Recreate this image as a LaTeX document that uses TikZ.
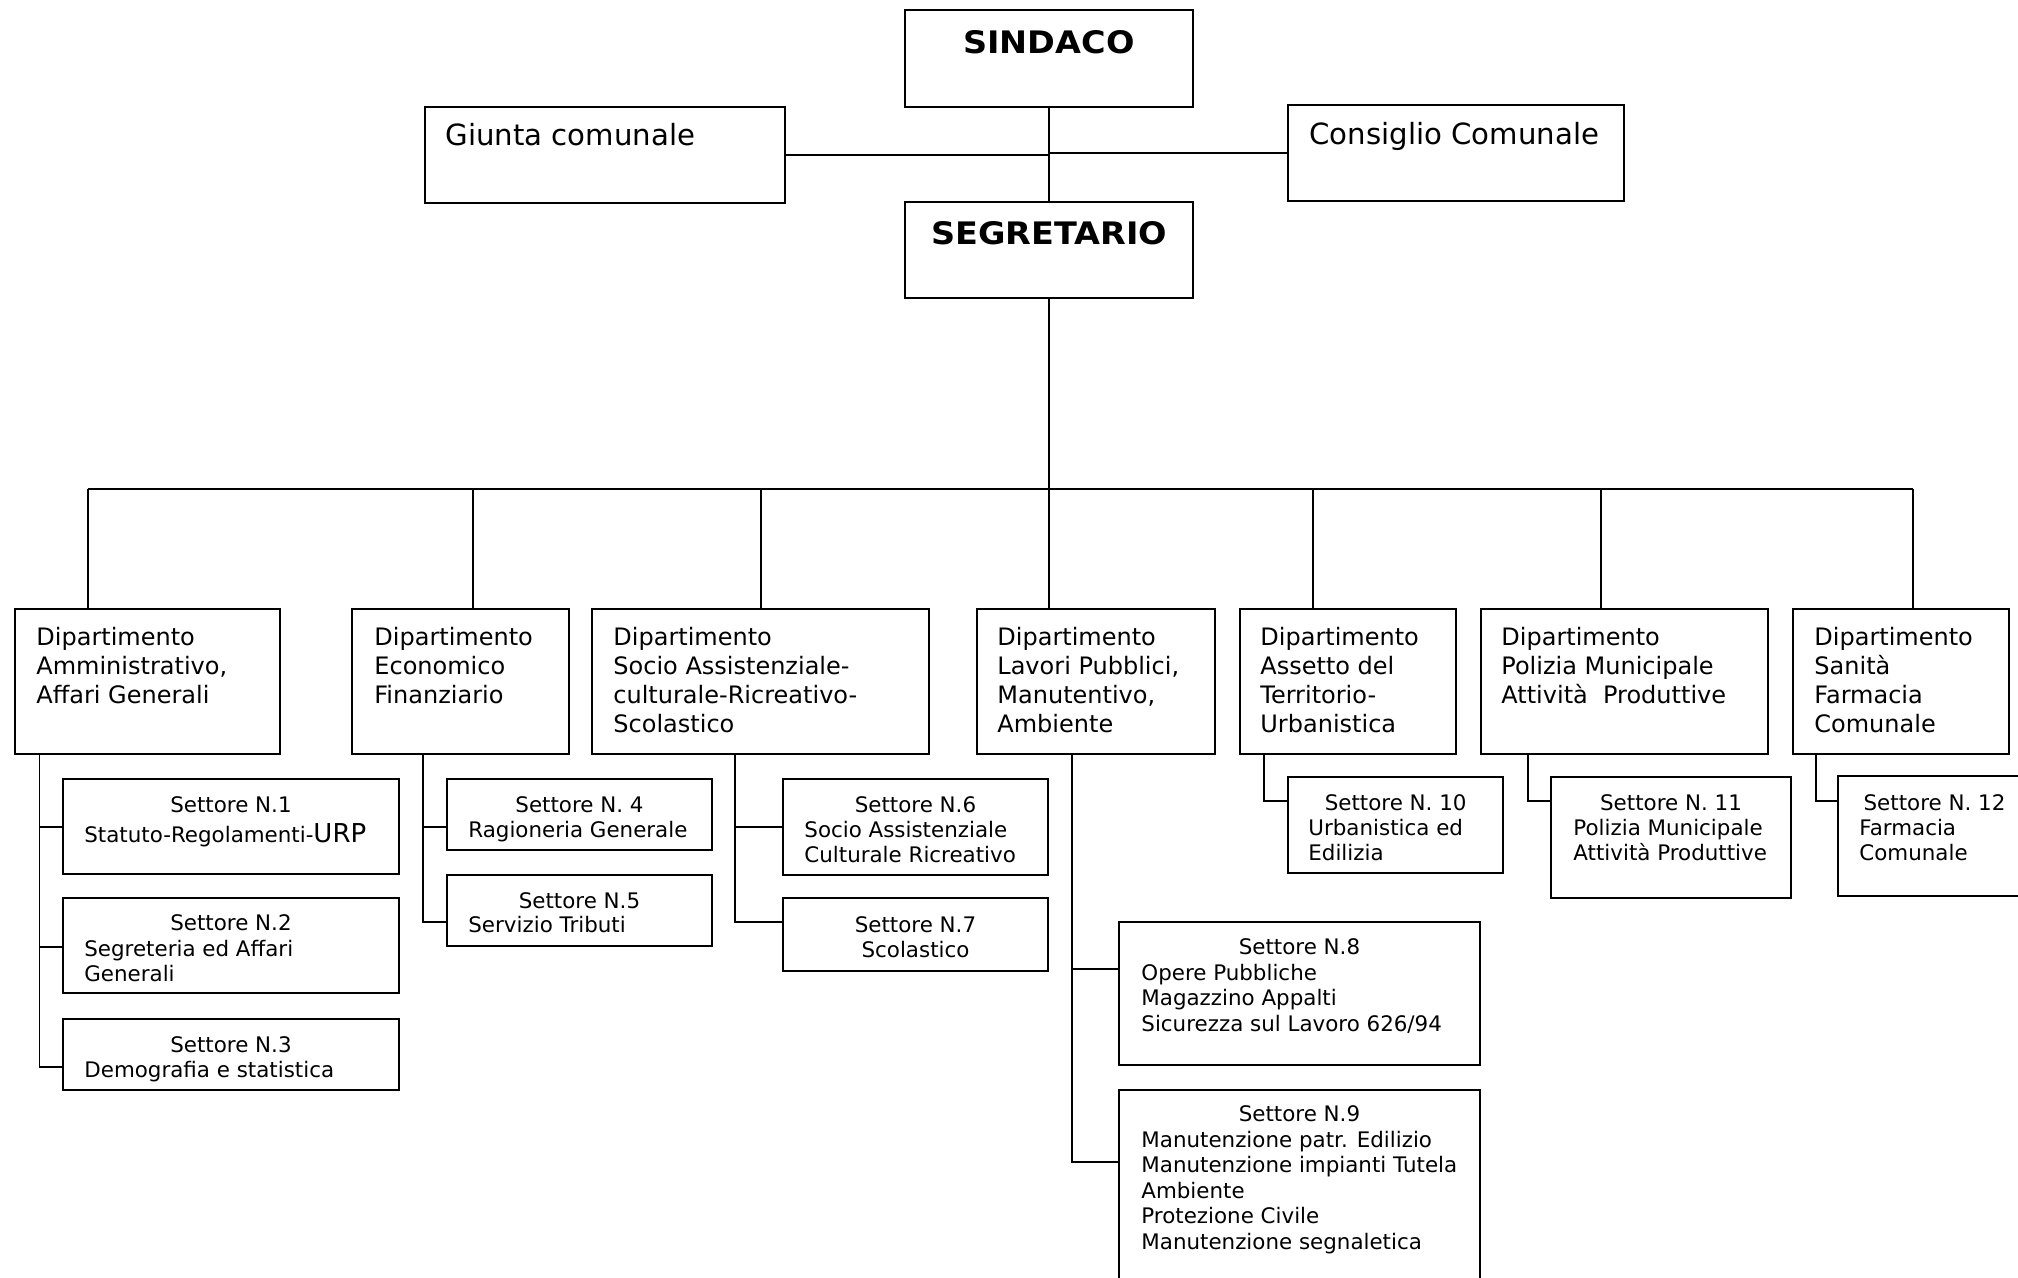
\documentclass[tikz,border=0pt]{standalone}
\usepackage{fontspec}
\usepackage{graphicx}
\setmainfont{DejaVu Sans}
\newcommand\mlines[1]{\begin{tabular}[t]{@{}l@{}}#1\end{tabular}}
\begin{document}
\begin{tikzpicture}[x=0.5pt,y=-0.5pt,
  box/.style={draw, line width=1pt, rectangle, inner sep=0pt, outer sep=0pt},
  conn/.style={line width=0.9pt},
  ttl/.style={anchor=base, inner sep=0pt, font=\fontsize{10.7}{12.8}\selectfont},
  bdy/.style={anchor=base west, inner sep=0pt, font=\fontsize{10.7}{12.8}\selectfont},
  dtxt/.style={anchor=base west, inner sep=0pt, font=\fontsize{12}{14.65}\selectfont},
  big/.style={anchor=base, inner sep=0pt, font=\fontsize{15.5}{18}\selectfont\bfseries},
  mid/.style={anchor=base west, inner sep=0pt, font=\fontsize{14.6}{17}\selectfont}]
\useasboundingbox (0,0) rectangle (2018,1278);
\fill[white] (0,0) rectangle (2018,1278);
\clip (0,0) rectangle (2018,1278);

% top boxes
\node[box, minimum width=144pt, minimum height=48.5pt] (sind) at (1049,58.5) {};
\node[box, minimum width=180pt, minimum height=48pt] (giunta) at (605,155) {};
\node[box, minimum width=168pt, minimum height=48pt] (cons) at (1456,153) {};
\node[box, minimum width=144pt, minimum height=48pt] (seg) at (1049,250) {};

\node[big] (tsind) at (1049,53.3) {\scalebox{1.08}[1]{SINDACO}};
\node[big] (tseg) at (1049,245) {\scalebox{1.08}[1]{SEGRETARIO}};
\node[mid] (tgiunta) at (445,146) {Giunta comunale};
\node[mid] (tcons) at (1309,145) {Consiglio Comunale};

% departments
\node[box, minimum width=132.5pt, minimum height=72.5pt] (d1) at (147,681.5) {};
\node[box, minimum width=108.5pt, minimum height=72.5pt] (d2) at (460.5,681.5) {};
\node[box, minimum width=168.5pt, minimum height=72.5pt] (d3) at (760.5,681.5) {};
\node[box, minimum width=119pt, minimum height=72.5pt] (d4) at (1096,681.5) {};
\node[box, minimum width=108.25pt, minimum height=72.5pt] (d5) at (1347.75,681.5) {};
\node[box, minimum width=143.5pt, minimum height=72.5pt] (d6) at (1624.5,681.5) {};
\node[box, minimum width=108pt, minimum height=72.5pt] (d7) at (1901,681.5) {};

\node[dtxt] (td1) at (36,645) {\mlines{Dipartimento\\Amministrativo,\\Affari Generali}};
\node[dtxt] (td2) at (374,645) {\mlines{Dipartimento\\Economico\\Finanziario}};
\node[dtxt] (td3) at (613,645) {\mlines{Dipartimento\\Socio Assistenziale-\\culturale-Ricreativo-\\Scolastico}};
\node[dtxt] (td4) at (997,645) {\mlines{Dipartimento\\Lavori Pubblici,\\Manutentivo,\\Ambiente}};
\node[dtxt] (td5) at (1260,645) {\mlines{Dipartimento\\Assetto del\\Territorio-\\Urbanistica}};
\node[dtxt] (td6) at (1501,645) {\mlines{Dipartimento\\Polizia Municipale\\Attività~~Produttive}};
\node[dtxt] (td7) at (1814,645) {\mlines{Dipartimento\\Sanità\\Farmacia\\Comunale}};

% sectors
\node[box, minimum width=168pt, minimum height=47.5pt] (s1) at (231,826.5) {};
\node[box, minimum width=168pt, minimum height=47.5pt] (s2) at (231,945.5) {};
\node[box, minimum width=168pt, minimum height=35.5pt] (s3) at (231,1054.5) {};
\node[box, minimum width=132.5pt, minimum height=35.5pt] (s4) at (579.5,814.5) {};
\node[box, minimum width=132.5pt, minimum height=35.5pt] (s5) at (579.5,910.5) {};
\node[box, minimum width=132.5pt, minimum height=48pt] (s6) at (915.5,827) {};
\node[box, minimum width=132.5pt, minimum height=36.5pt] (s7) at (915.5,934.5) {};
\node[box, minimum width=180.5pt, minimum height=71.5pt] (s8) at (1299.5,993.5) {};
\node[box, minimum width=180.5pt, minimum height=105pt] (s9) at (1299.5,1195) {};
\node[box, minimum width=107.5pt, minimum height=48pt] (s10) at (1395.5,825) {};
\node[box, minimum width=120pt, minimum height=60.5pt] (s11) at (1671,837.5) {};
\node[box, minimum width=96.5pt, minimum height=60pt] (s12) at (1934.5,836) {};

\node[ttl] (ts1) at (231,812) {Settore N.1};
\node[bdy] (bs1) at (84,842) {Statuto-Regolamenti-{\fontsize{13}{15}\selectfont URP}};
\node[ttl] (ts2) at (231,930) {Settore N.2};
\node[bdy] (bs2) at (84,956) {\mlines{Segreteria ed Affari\\Generali}};
\node[ttl] (ts3) at (231,1052) {Settore N.3};
\node[bdy] (bs3) at (84,1077) {Demografia e statistica};
\node[ttl] (ts4) at (579.5,812) {Settore N. 4};
\node[bdy] (bs4) at (468,837) {Ragioneria Generale};
\node[ttl] (ts5) at (579.5,908) {Settore N.5};
\node[bdy] (bs5) at (468,932) {Servizio Tributi};
\node[ttl] (ts6) at (915.5,812) {Settore N.6};
\node[bdy] (bs6) at (804,837) {\mlines{Socio Assistenziale\\Culturale Ricreativo}};
\node[ttl] (ts7) at (915.5,932) {Settore N.7};
\node[ttl] (bs7) at (915.5,957) {Scolastico};
\node[ttl] (ts8) at (1299.5,954) {Settore N.8};
\node[bdy] (bs8) at (1141,980) {\mlines{Opere Pubbliche\\Magazzino Appalti\\Sicurezza sul Lavoro 626/94}};
\node[ttl] (ts9) at (1299.5,1121) {Settore N.9};
\node[bdy] (bs9) at (1141,1147) {\mlines{Manutenzione patr. Edilizio\\Manutenzione impianti Tutela\\Ambiente\\Protezione Civile\\Manutenzione segnaletica}};
\node[ttl] (ts10) at (1395.7,810) {Settore N. 10};
\node[bdy] (bs10) at (1308,835) {\mlines{Urbanistica ed\\Edilizia}};
\node[ttl] (ts11) at (1671,810) {Settore N. 11};
\node[bdy] (bs11) at (1573,835) {\mlines{Polizia Municipale\\Attività Produttive}};
\node[ttl] (ts12) at (1934.5,810) {Settore N. 12};
\node[bdy] (bs12) at (1859,835) {\mlines{Farmacia\\Comunale}};

% top connectors
\draw[conn] (sind) -- (seg);
\draw[conn] (giunta.east) -- (giunta.east -| sind);
\draw[conn] (cons.west) -- (cons.west -| sind);

% bus
\coordinate (b1) at (87.7,489);
\coordinate (b2) at (473,489);
\coordinate (b3) at (760.6,489);
\coordinate (b4) at (1049,489);
\coordinate (b5) at (1313,489);
\coordinate (b6) at (1600.7,489);
\coordinate (b7) at (1913,489);
\draw[conn] (seg) -- (b4);
\draw[conn] (b1) -- (b7);
\foreach \i in {1,...,7} \draw[conn] (b\i) -- (d\i.north -| b\i);

% spines
\coordinate (p1) at (39.5,754);
\coordinate (p2) at (423,754);
\coordinate (p3) at (735,754);
\coordinate (p4) at (1072,754);
\coordinate (p5) at (1264,754);
\coordinate (p6) at (1528,754);
\coordinate (p7) at (1816,754);
\coordinate (c1) at (39.5,827);
\coordinate (c2) at (39.5,947);
\coordinate (c3) at (39.5,1067);
\coordinate (c4) at (423,827);
\coordinate (c5) at (423,922);
\coordinate (c6) at (735,827);
\coordinate (c7) at (735,922);
\coordinate (c8) at (1072,969);
\coordinate (c9) at (1072,1162);
\coordinate (c10) at (1264,801);
\coordinate (c11) at (1528,801);
\coordinate (c12) at (1816,801);

\draw[conn] (p1) -- (c3) -- (s3.west |- c3);
\draw[conn] (c1) -- (s1.west |- c1);
\draw[conn] (c2) -- (s2.west |- c2);
\draw[conn] (p2) -- (c5) -- (s5.west |- c5);
\draw[conn] (c4) -- (s4.west |- c4);
\draw[conn] (p3) -- (c7) -- (s7.west |- c7);
\draw[conn] (c6) -- (s6.west |- c6);
\draw[conn] (p4) -- (c9) -- (s9.west |- c9);
\draw[conn] (c8) -- (s8.west |- c8);
\draw[conn] (p5) -- (c10) -- (s10.west |- c10);
\draw[conn] (p6) -- (c11) -- (s11.west |- c11);
\draw[conn] (p7) -- (c12) -- (s12.west |- c12);
\end{tikzpicture}
\end{document}
